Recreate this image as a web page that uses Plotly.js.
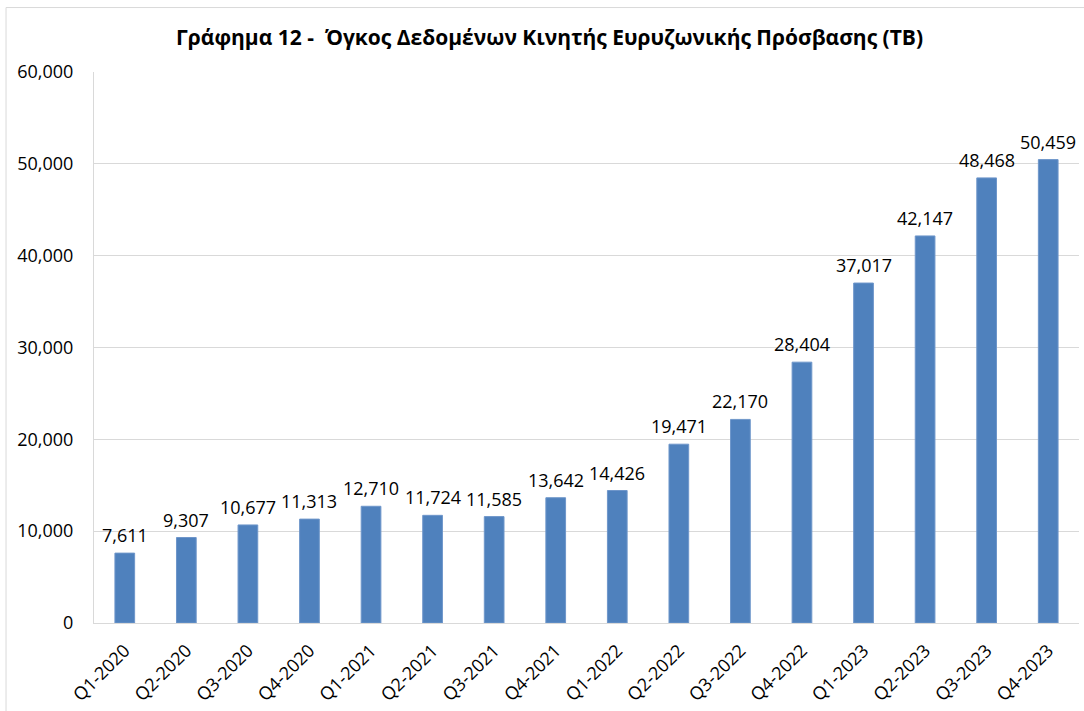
<!DOCTYPE html>
<html>
<head>
<meta charset="utf-8">
<script src="https://cdn.plot.ly/plotly-3.0.1.min.js"></script>
<style>html,body{margin:0;padding:0;background:#fff;}#chart{width:1084px;height:711px;}</style>
</head>
<body>
<div id="chart"></div>
<script>
const chartTitle = "Γράφημα 12 -  Όγκος Δεδομένων Κινητής Ευρυζωνικής Πρόσβασης (TB)";
const quarters = ["Q1-2020","Q2-2020","Q3-2020","Q4-2020","Q1-2021","Q2-2021","Q3-2021","Q4-2021","Q1-2022","Q2-2022","Q3-2022","Q4-2022","Q1-2023","Q2-2023","Q3-2023","Q4-2023"];
const volumeTB = [7611,9307,10677,11313,12710,11724,11585,13642,14426,19471,22170,28404,37017,42147,48468,50459];

const FONT = "Open Sans, Noto Sans, sans-serif";
const trace = {
  type: "bar",
  x: quarters,
  y: volumeTB,
  marker: {color: "#4F81BD", line: {color: "#6E96CA", width: 1}},
  hoverinfo: "x+y"
};
const valueLabels = quarters.map((q, i) => ({
  x: q, y: volumeTB[i], xref: "x", yref: "y",
  text: volumeTB[i].toLocaleString("en-US"),
  showarrow: false, yanchor: "bottom", xanchor: "center", yshift: 4,
  font: {family: FONT, size: 18, color: "#000"}
}));
const layout = {
  width: 1084, height: 711,
  margin: {l: 94, r: 5, t: 72, b: 88},
  paper_bgcolor: "#fff", plot_bgcolor: "#fff",
  showlegend: false,
  bargap: 0.68,
  font: {family: FONT, size: 18, color: "#000"},
  title: {text: "<b>" + chartTitle + "</b>", x: 0.507, xanchor: "center", y: 1 - 38/711, yanchor: "middle", yref: "container", font: {family: FONT, size: 21, color: "#000"}},
  xaxis: {type: "category", tickangle: -45, showline: true, linecolor: "#D9D9D9", linewidth: 1, ticks: "", showgrid: false, ticklabelstandoff: 9, tickfont: {family: FONT, size: 18, color: "#000"}},
  yaxis: {range: [0, 60000], dtick: 10000, tickformat: ",d", showline: true, linecolor: "#D9D9D9", linewidth: 1, gridcolor: "#D9D9D9", gridwidth: 1, zeroline: false, ticks: "", ticklabelstandoff: 16, tickfont: {family: FONT, size: 18, color: "#000"}},
  annotations: valueLabels,
  shapes: [{type: "rect", xref: "paper", yref: "paper", x0: -0.0893, x1: 1.02, y0: -0.2, y1: 1.117, line: {color: "#D9D9D9", width: 1}, fillcolor: "rgba(0,0,0,0)", layer: "below"}]
};
Plotly.newPlot("chart", [trace], layout, {displayModeBar: false, staticPlot: true});
</script>
</body>
</html>
